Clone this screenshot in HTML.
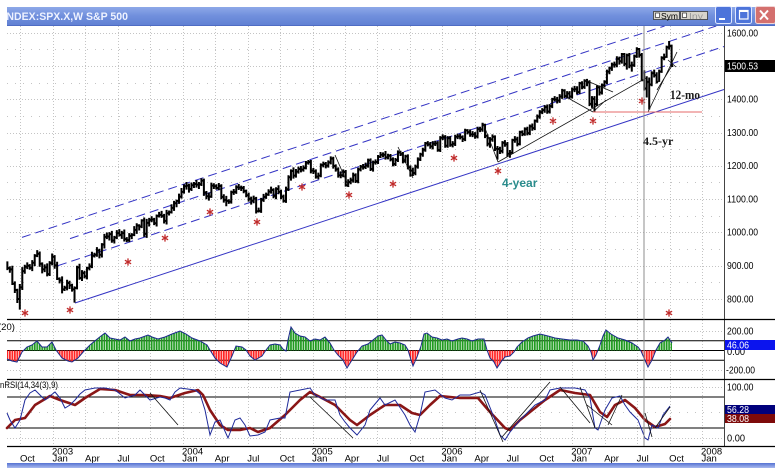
<!DOCTYPE html>
<html><head><meta charset="utf-8">
<style>
html,body{margin:0;padding:0;background:#fff;width:775px;height:476px;overflow:hidden}
svg{display:block}
text{font-family:"Liberation Sans",sans-serif}
</style></head><body>
<svg width="775" height="476" viewBox="0 0 775 476" xmlns="http://www.w3.org/2000/svg">
<defs>
 <linearGradient id="tb" x1="0" y1="0" x2="0" y2="1">
  <stop offset="0" stop-color="#8ea8e8"/><stop offset="0.45" stop-color="#7190dd"/><stop offset="1" stop-color="#5f7fd3"/>
 </linearGradient>
 <linearGradient id="sb" x1="0" y1="0" x2="0" y2="1">
  <stop offset="0" stop-color="#5572d2"/><stop offset="1" stop-color="#a9b9ee"/>
 </linearGradient>
 <clipPath id="tc"><rect x="7" y="0" width="768" height="30"/></clipPath>
 <clipPath id="hup"><rect x="7" y="319" width="717" height="31.5"/></clipPath>
 <clipPath id="hdn"><rect x="7" y="350.5" width="717" height="28.5"/></clipPath>
 <pattern id="gpat" patternUnits="userSpaceOnUse" x="6.5" y="0" width="2.4878" height="20">
  <rect x="0" y="0" width="1.8" height="20" fill="#1f9a1f"/>
 </pattern>
 <pattern id="rpat" patternUnits="userSpaceOnUse" x="6.5" y="0" width="2.4878" height="20">
  <rect x="0" y="0" width="1.8" height="20" fill="#ff2424"/>
 </pattern>
</defs>
<rect width="775" height="476" fill="#fff"/>

<!-- grid -->
<path d="M20.5 26V446M53.5 26V446M85.5 26V446M118.5 26V446M150.5 26V446M183.5 26V446M215.5 26V446M248.5 26V446M280.5 26V446M313.5 26V446M345.5 26V446M377.5 26V446M410.5 26V446M442.5 26V446M475.5 26V446M507.5 26V446M540.5 26V446M572.5 26V446M605.5 26V446M637.5 26V446M670.5 26V446M702.5 26V446" stroke="#c4c4c4" stroke-width="1" stroke-dasharray="1,2" fill="none"/>
<path d="M7 33.5H724M7 66.5H724M7 99.5H724M7 133.5H724M7 166.5H724M7 199.5H724M7 232.5H724M7 266.5H724M7 299.5H724M7 331.5H724M7 370.5H724M7 387.5H724M7 438.5H724" stroke="#c4c4c4" stroke-width="1" stroke-dasharray="1,2" fill="none"/>
<path d="M7 49.5H724M7 83.5H724M7 116.5H724M7 149.5H724M7 182.5H724M7 216.5H724M7 249.5H724M7 282.5H724M7 412.5H724" stroke="#c4c4c4" stroke-width="1" stroke-dasharray="1,7" fill="none"/>

<!-- panel lines -->
<line x1="724.5" y1="26" x2="724.5" y2="446" stroke="#444" stroke-width="1"/>
<path d="M7 319.5H775M7 379.5H775M7 446.5H775" stroke="#000" stroke-width="1.2" fill="none"/>
<path d="M7 340.7H724M7 350.5H724M7 360.2H724M7 397H724M7 428H724" stroke="#000" stroke-width="1" fill="none"/>

<!-- histogram -->
<g>
 <polygon clip-path="url(#hup)" fill="url(#gpat)" points="7,350.5 7,359 12,361 17,362 22,352 27,347 32,345 37,341 42,347 47,347 52,342 56,350 62,358 68,361 72,362 78,358 84,351 90,345 96,340 101,336 105,333 110,338 115,339 120,340 125,337 130,341 135,339 140,338 148,335 152,337 158,339 165,337 172,334 180,331 186,334 192,338 200,341 207,345 210,350 215,358 220,363 227,367 232,356 236,346 242,347 246,350 250,356 255,360 262,356 266,350 270,345 275,344 280,345 283,349 286,351 288,340 291,327 295,333 300,336 305,337 310,341 315,339 320,340 325,337 330,343 334,350 338,355 343,360 347,368 352,360 357,352 362,346 368,344 373,340 378,336 382,335 386,340 390,344 395,342 400,343 405,345 408,350 411,360 413,366 417,357 421,346 424,334 427,333 432,337 437,338 442,340 447,339 452,341 458,339 462,338 467,339 472,341 478,339 484,339 487,350 490,358 494,362 497,368 501,362 505,357 510,356 514,352 517,347 522,342 528,338 533,336 540,334 548,336 555,338 562,339 570,340 577,340 583,341 588,346 591,352 593,360 596,355 600,345 603,336 606,330 611,334 618,338 625,340 632,343 638,347 641,351 644,358 648,367 652,360 656,350 660,343 665,340 668,337 672,343 672,350.5"/>
 <polygon clip-path="url(#hdn)" fill="url(#rpat)" points="7,350.5 7,359 12,361 17,362 22,352 27,347 32,345 37,341 42,347 47,347 52,342 56,350 62,358 68,361 72,362 78,358 84,351 90,345 96,340 101,336 105,333 110,338 115,339 120,340 125,337 130,341 135,339 140,338 148,335 152,337 158,339 165,337 172,334 180,331 186,334 192,338 200,341 207,345 210,350 215,358 220,363 227,367 232,356 236,346 242,347 246,350 250,356 255,360 262,356 266,350 270,345 275,344 280,345 283,349 286,351 288,340 291,327 295,333 300,336 305,337 310,341 315,339 320,340 325,337 330,343 334,350 338,355 343,360 347,368 352,360 357,352 362,346 368,344 373,340 378,336 382,335 386,340 390,344 395,342 400,343 405,345 408,350 411,360 413,366 417,357 421,346 424,334 427,333 432,337 437,338 442,340 447,339 452,341 458,339 462,338 467,339 472,341 478,339 484,339 487,350 490,358 494,362 497,368 501,362 505,357 510,356 514,352 517,347 522,342 528,338 533,336 540,334 548,336 555,338 562,339 570,340 577,340 583,341 588,346 591,352 593,360 596,355 600,345 603,336 606,330 611,334 618,338 625,340 632,343 638,347 641,351 644,358 648,367 652,360 656,350 660,343 665,340 668,337 672,343 672,350.5"/>
 <polyline fill="none" stroke="#1c2a8c" stroke-width="1" points="7,359 12,361 17,362 22,352 27,347 32,345 37,341 42,347 47,347 52,342 56,350 62,358 68,361 72,362 78,358 84,351 90,345 96,340 101,336 105,333 110,338 115,339 120,340 125,337 130,341 135,339 140,338 148,335 152,337 158,339 165,337 172,334 180,331 186,334 192,338 200,341 207,345 210,350 215,358 220,363 227,367 232,356 236,346 242,347 246,350 250,356 255,360 262,356 266,350 270,345 275,344 280,345 283,349 286,351 288,340 291,327 295,333 300,336 305,337 310,341 315,339 320,340 325,337 330,343 334,350 338,355 343,360 347,368 352,360 357,352 362,346 368,344 373,340 378,336 382,335 386,340 390,344 395,342 400,343 405,345 408,350 411,360 413,366 417,357 421,346 424,334 427,333 432,337 437,338 442,340 447,339 452,341 458,339 462,338 467,339 472,341 478,339 484,339 487,350 490,358 494,362 497,368 501,362 505,357 510,356 514,352 517,347 522,342 528,338 533,336 540,334 548,336 555,338 562,339 570,340 577,340 583,341 588,346 591,352 593,360 596,355 600,345 603,336 606,330 611,334 618,338 625,340 632,343 638,347 641,351 644,358 648,367 652,360 656,350 660,343 665,340 668,337 672,343"/>
</g>

<!-- RSI -->
<polyline fill="none" stroke="#8a1616" stroke-width="2.6" stroke-linejoin="round" stroke-linecap="round" points="7,428 15,420 25,418 35,405 50,396 60,400 75,405 85,398 100,389 115,390 130,395 145,395 160,396 170,398 185,393 198,390 203,395 210,410 220,425 228,430 240,430 250,428 258,432 270,428 285,415 300,400 310,392 320,397 335,405 350,420 357,425 370,415 385,405 400,405 412,413 420,415 430,405 440,396 460,398 478,398 490,412 505,428 510,430 520,420 545,400 560,390 575,393 590,395 600,412 607,417 615,405 625,400 635,408 645,420 655,427 665,424 670,419"/>
<polyline fill="none" stroke="#1e2a9a" stroke-width="1" points="7,413 10,420 15,428 20,420 25,400 30,393 35,390 40,395 45,400 50,396 55,392 60,398 65,408 70,405 75,400 80,394 85,390 95,388 105,388 115,390 125,398 135,395 140,390 150,400 160,397 165,398 170,400 175,392 180,388 195,390 200,394 205,410 210,435 215,422 220,420 228,438 235,420 240,418 245,425 250,436 258,435 265,432 270,420 280,418 285,418 290,392 300,390 310,388 315,395 325,400 335,400 340,415 345,422 350,428 357,435 365,425 370,410 380,398 385,405 395,400 405,415 410,425 415,432 420,415 425,392 435,390 445,398 452,400 460,395 470,395 480,392 485,395 495,420 500,435 505,440 510,432 520,420 535,405 545,400 550,390 560,388 575,388 585,390 590,398 595,428 598,430 605,410 612,398 620,396 625,405 630,412 638,420 645,438 648,440 652,425 658,428 663,415 670,406"/>
<path fill="none" stroke="#111" stroke-width="0.8" d="M310 397L353 438M480 390L503 442M502 437L550 382M560 387L590 423M580 387L595 428M587 405L612 425M608 425L622 395M645 413L652 437M655 428L670 407M150 393L178 425"/>

<!-- channel lines -->
<g stroke="#3434c4" stroke-width="1" fill="none">
 <line x1="75" y1="303" x2="724" y2="89.5"/>
 <line x1="22" y1="237.4" x2="664.6" y2="26" stroke-dasharray="9,5"/>
 <line x1="70" y1="238.6" x2="716.2" y2="26" stroke-dasharray="9,5"/>
 <line x1="58" y1="265.6" x2="724" y2="46.5" stroke-dasharray="9,5"/>
</g>

<!-- price bars (data coords: x = week index, y = price) -->
<g transform="translate(7.36 565) scale(2.4878 -0.3325)">
<path fill="none" stroke="#000" stroke-width="2" vector-effect="non-scaling-stroke" d="M0 887V913M0 893h.6M1 879V898M1 889h.6M2 842V900M2 846h.6M3 818V853M3 827h.6M4 788V831M4 800h.6M5 768V845M5 835h.6M6 827V896M6 884h.6M7 876V903M7 897h.6M8 890V910M8 900h.6M9 888V905M9 894h.6M10 884V917M10 909h.6M11 899V935M11 930h.6M12 926V947M12 936h.6M13 897V943M13 906h.6M14 877V910M14 889h.6M15 881V904M15 895h.6M16 868V907M16 875h.6M17 869V914M17 908h.6M18 901V937M18 927h.6M19 891V932M19 901h.6M20 857V912M20 861h.6M21 847V865M21 856h.6M22 817V868M22 829h.6M23 824V840M23 834h.6M24 826V858M24 848h.6M25 830V855M25 841h.6M26 822V846M26 829h.6M27 789V838M27 833h.6M28 829V900M28 895h.6M29 858V906M29 863h.6M30 854V887M30 878h.6M31 862V885M31 868h.6M32 859V897M32 893h.6M33 886V907M33 898h.6M34 893V942M34 930h.6M35 925V939M35 933h.6M36 927V956M36 946h.6M37 922V951M37 933h.6M38 925V968M38 964h.6M39 952V996M39 987h.6M40 980V1000M40 988h.6M41 976V1001M41 995h.6M42 969V1005M42 976h.6M43 967V990M43 985h.6M44 980V1007M44 998h.6M45 988V1010M45 993h.6M46 981V1005M46 998h.6M47 973V1009M47 980h.6M48 971V986M48 977h.6M49 971V998M49 990h.6M50 980V998M50 993h.6M51 989V1019M51 1008h.6M52 996V1028M52 1021h.6M53 1006V1025M53 1018h.6M54 1013V1040M54 1036h.6M55 987V1045M55 996h.6M56 984V1041M56 1029h.6M57 1018V1044M57 1038h.6M58 1031V1049M58 1039h.6M59 1022V1044M59 1028h.6M60 1018V1054M60 1050h.6M61 1045V1062M61 1053h.6M62 1044V1065M62 1050h.6M63 1027V1056M63 1035h.6M64 1024V1068M64 1058h.6M65 1051V1066M65 1061h.6M66 1057V1085M66 1074h.6M67 1065V1095M67 1088h.6M68 1076V1099M68 1095h.6M69 1086V1117M69 1108h.6M70 1102V1134M70 1122h.6M71 1117V1145M71 1139h.6M72 1129V1152M72 1141h.6M73 1120V1147M73 1131h.6M74 1125V1150M74 1142h.6M75 1134V1152M75 1146h.6M76 1135V1158M76 1144h.6M77 1131V1152M77 1145h.6M78 1140V1163M78 1156h.6M79 1110V1162M79 1120h.6M80 1100V1125M80 1109h.6M81 1096V1120M81 1108h.6M82 1104V1150M82 1141h.6M83 1131V1148M83 1139h.6M84 1129V1145M84 1134h.6M85 1127V1149M85 1140h.6M86 1100V1145M86 1107h.6M87 1090V1115M87 1098h.6M88 1079V1110M88 1095h.6M89 1086V1100M89 1093h.6M90 1087V1126M90 1121h.6M91 1113V1131M91 1122h.6M92 1116V1142M92 1136h.6M93 1128V1146M93 1135h.6M94 1125V1141M94 1134h.6M95 1118V1140M95 1125h.6M96 1106V1129M96 1112h.6M97 1093V1120M97 1101h.6M98 1084V1108M98 1096h.6M99 1088V1111M99 1102h.6M100 1057V1107M100 1064h.6M101 1060V1075M101 1065h.6M102 1059V1104M102 1098h.6M103 1092V1116M103 1107h.6M104 1101V1120M104 1114h.6M105 1110V1130M105 1123h.6M106 1117V1138M106 1128h.6M107 1103V1133M107 1110h.6M108 1100V1136M108 1131h.6M109 1115V1142M109 1122h.6M110 1100V1129M110 1108h.6M111 1090V1114M111 1095h.6M112 1089V1138M112 1130h.6M113 1125V1172M113 1166h.6M114 1156V1190M114 1185h.6M115 1162V1196M115 1171h.6M116 1165V1191M116 1183h.6M117 1177V1198M117 1191h.6M118 1181V1200M118 1189h.6M119 1183V1202M119 1194h.6M120 1190V1215M120 1210h.6M121 1204V1218M121 1212h.6M122 1178V1218M122 1186h.6M123 1176V1194M123 1184h.6M124 1162V1190M124 1168h.6M125 1160V1180M125 1171h.6M126 1166V1208M126 1203h.6M127 1196V1213M127 1206h.6M128 1193V1212M128 1201h.6M129 1195V1217M129 1211h.6M130 1205V1229M130 1222h.6M131 1192V1228M131 1200h.6M132 1183V1205M132 1190h.6M133 1165V1196M133 1172h.6M134 1163V1184M134 1172h.6M135 1166V1190M135 1182h.6M136 1138V1188M136 1142h.6M137 1137V1160M137 1152h.6M138 1145V1165M138 1157h.6M139 1150V1180M139 1172h.6M140 1149V1178M140 1155h.6M141 1148V1195M141 1190h.6M142 1184V1203M142 1198h.6M143 1189V1206M143 1197h.6M144 1191V1210M144 1201h.6M145 1195V1222M145 1217h.6M146 1185V1223M146 1191h.6M147 1183V1216M147 1211h.6M148 1204V1220M148 1212h.6M149 1206V1233M149 1228h.6M150 1224V1242M150 1234h.6M151 1226V1241M151 1234h.6M152 1219V1245M152 1226h.6M153 1220V1237M153 1231h.6M154 1214V1236M154 1220h.6M155 1199V1226M155 1206h.6M156 1200V1224M156 1218h.6M157 1212V1247M157 1241h.6M158 1230V1246M158 1237h.6M159 1208V1242M159 1215h.6M160 1209V1234M160 1229h.6M161 1190V1235M161 1196h.6M162 1168V1202M162 1186h.6M163 1170V1195M163 1179h.6M164 1172V1204M164 1198h.6M165 1192V1226M165 1220h.6M166 1215V1240M166 1235h.6M167 1228V1255M167 1249h.6M168 1243V1272M168 1268h.6M169 1259V1275M169 1265h.6M170 1252V1272M170 1259h.6M171 1250V1275M171 1267h.6M172 1260V1276M172 1268h.6M173 1243V1275M173 1248h.6M174 1242V1290M174 1285h.6M175 1278V1295M175 1287h.6M176 1255V1293M176 1261h.6M177 1255V1290M177 1284h.6M178 1258V1290M178 1264h.6M179 1256V1275M179 1267h.6M180 1260V1294M180 1288h.6M181 1281V1297M181 1289h.6M182 1280V1297M182 1287h.6M183 1272V1292M183 1281h.6M184 1275V1312M184 1307h.6M185 1295V1311M185 1302h.6M186 1288V1310M186 1295h.6M187 1287V1305M187 1295h.6M188 1282V1302M188 1289h.6M189 1283V1318M189 1311h.6M190 1302V1318M190 1310h.6M191 1303V1330M191 1325h.6M192 1284V1327M192 1291h.6M193 1259V1295M193 1267h.6M194 1255V1287M194 1280h.6M195 1273V1295M195 1288h.6M196 1245V1292M196 1252h.6M197 1219V1260M197 1251h.6M198 1236V1258M198 1245h.6M199 1238V1275M199 1270h.6M200 1258V1278M200 1265h.6M201 1228V1272M201 1237h.6M202 1225V1248M202 1240h.6M203 1236V1282M203 1278h.6M204 1270V1290M204 1280h.6M205 1259V1288M205 1266h.6M206 1262V1306M206 1302h.6M207 1290V1307M207 1296h.6M208 1291V1316M208 1311h.6M209 1292V1318M209 1299h.6M210 1293V1325M210 1319h.6M211 1306V1328M211 1314h.6M212 1308V1340M212 1336h.6M213 1330V1355M213 1349h.6M214 1342V1368M214 1362h.6M215 1356V1374M215 1368h.6M216 1360V1383M216 1377h.6M217 1357V1385M217 1364h.6M218 1358V1386M218 1380h.6M219 1374V1405M219 1401h.6M220 1394V1410M220 1400h.6M221 1388V1408M221 1397h.6M222 1390V1416M222 1409h.6M223 1402V1432M223 1427h.6M224 1404V1431M224 1410h.6M225 1403V1425M225 1418h.6M226 1402V1425M226 1409h.6M227 1403V1436M227 1430h.6M228 1422V1441M228 1431h.6M229 1415V1440M229 1422h.6M230 1416V1453M230 1449h.6M231 1431V1455M231 1438h.6M232 1432V1461M232 1456h.6M233 1440V1462M233 1451h.6M234 1380V1458M234 1387h.6M235 1375V1410M235 1402h.6M236 1364V1410M236 1386h.6M237 1380V1442M237 1437h.6M238 1412V1442M238 1421h.6M239 1415V1448M239 1443h.6M240 1436V1458M240 1453h.6M241 1446V1490M241 1484h.6M242 1476V1499M242 1494h.6M243 1486V1511M243 1505h.6M244 1496V1514M244 1505h.6M245 1497V1530M245 1522h.6M246 1505V1529M246 1515h.6M247 1508V1540M247 1536h.6M248 1500V1540M248 1507h.6M249 1490V1538M249 1533h.6M250 1494V1540M250 1502h.6M251 1484V1514M251 1503h.6M252 1498V1535M252 1530h.6M253 1525V1557M253 1552h.6M254 1526V1555M254 1534h.6M255 1455V1540M255 1458h.6M256 1427V1488M256 1433h.6M257 1406V1470M257 1453h.6M258 1370V1466M258 1445h.6M259 1440V1485M259 1479h.6M260 1466V1490M260 1473h.6M261 1448V1482M261 1453h.6M262 1453V1490M262 1484h.6M263 1480V1530M263 1525h.6M264 1518V1538M264 1527h.6M265 1525V1562M265 1557h.6M266 1550V1576M266 1561h.6M267 1499V1565M267 1500.6h.6"/>
</g>

<!-- user trend lines -->
<path fill="none" stroke="#111" stroke-width="0.8" d="M335 155L349 187M398 147L413 178M483 123L498 162M498 162L646 78M568 98L593 112M585 80L613 92M593 112L606 100M648 112L677 52M657 90L673 64M668 60L676 67"/>

<!-- stars -->
<path fill="none" stroke="#c02a2a" stroke-width="1.3" d="M25 309.4v7.2M21.9 311.2l6.2 3.6M21.9 314.8l6.2-3.6M70 306.4v7.2M66.9 308.2l6.2 3.6M66.9 311.8l6.2-3.6M128 258.4v7.2M124.9 260.2l6.2 3.6M124.9 263.8l6.2-3.6M165 234.4v7.2M161.9 236.2l6.2 3.6M161.9 239.8l6.2-3.6M210 208.4v7.2M206.9 210.2l6.2 3.6M206.9 213.8l6.2-3.6M257 218.4v7.2M253.9 220.2l6.2 3.6M253.9 223.8l6.2-3.6M302 183.4v7.2M298.9 185.2l6.2 3.6M298.9 188.8l6.2-3.6M349 191.4v7.2M345.9 193.2l6.2 3.6M345.9 196.8l6.2-3.6M393 180.4v7.2M389.9 182.2l6.2 3.6M389.9 185.8l6.2-3.6M454 154.4v7.2M450.9 156.2l6.2 3.6M450.9 159.8l6.2-3.6M498 167.4v7.2M494.9 169.2l6.2 3.6M494.9 172.8l6.2-3.6M553 117.4v7.2M549.9 119.2l6.2 3.6M549.9 122.8l6.2-3.6M593 117.4v7.2M589.9 119.2l6.2 3.6M589.9 122.8l6.2-3.6M642 97.4v7.2M638.9 99.2l6.2 3.6M638.9 102.8l6.2-3.6M669 309.4v7.2M665.9 311.2l6.2 3.6M665.9 314.8l6.2-3.6"/>

<!-- vertical marker line -->
<line x1="644" y1="26" x2="644" y2="446" stroke="#8c8c8c" stroke-width="1"/>
<!-- red horizontal -->
<line x1="593" y1="112" x2="702" y2="112" stroke="#e46a6a" stroke-width="1"/>

<!-- annotations -->
<text x="502" y="187" font-size="12" font-weight="bold" fill="#2a8c8c">4-year</text>
<text x="643" y="145" font-size="12" font-weight="bold" fill="#1a1a1a" style="font-family:'Liberation Serif',serif">4.5-yr</text>
<text x="670" y="99" font-size="12.5" font-weight="bold" fill="#1a1a1a" style="font-family:'Liberation Serif',serif" textLength="30" lengthAdjust="spacingAndGlyphs">12-mo</text>

<!-- panel indicator labels -->
<text x="-2" y="330" font-size="9.5" fill="#000">(20)</text>
<text x="0" y="388" font-size="9.5" fill="#000" textLength="58" lengthAdjust="spacingAndGlyphs">nRSI(14,34(3),9)</text>

<!-- right axis labels -->
<g font-size="10" fill="#000">
 <text x="727" y="36.5" textLength="31" lengthAdjust="spacingAndGlyphs">1600.00</text>
 <text x="727" y="102.5" textLength="31" lengthAdjust="spacingAndGlyphs">1400.00</text>
 <text x="727" y="136" textLength="31" lengthAdjust="spacingAndGlyphs">1300.00</text>
 <text x="727" y="169" textLength="31" lengthAdjust="spacingAndGlyphs">1200.00</text>
 <text x="727" y="202.5" textLength="31" lengthAdjust="spacingAndGlyphs">1100.00</text>
 <text x="727" y="235.5" textLength="31" lengthAdjust="spacingAndGlyphs">1000.00</text>
 <text x="727" y="269" textLength="26.5" lengthAdjust="spacingAndGlyphs">900.00</text>
 <text x="727" y="302.5" textLength="26.5" lengthAdjust="spacingAndGlyphs">800.00</text>
 <text x="727" y="334.5" textLength="26.5" lengthAdjust="spacingAndGlyphs">200.00</text>
 <text x="727" y="355" textLength="18" lengthAdjust="spacingAndGlyphs">0.00</text>
 <text x="726" y="373.5" textLength="29" lengthAdjust="spacingAndGlyphs">-200.00</text>
 <text x="727" y="390.5" textLength="26.5" lengthAdjust="spacingAndGlyphs">100.00</text>
 <text x="727" y="441.5" textLength="18" lengthAdjust="spacingAndGlyphs">0.00</text>
</g>
<rect x="725" y="60" width="50" height="12" fill="#000"/>
<text x="727" y="69.5" font-size="10" fill="#fff" textLength="31" lengthAdjust="spacingAndGlyphs">1500.53</text>
<rect x="725" y="340" width="50" height="10" fill="#0b14ee"/>
<text x="727" y="348.5" font-size="10" fill="#fff" textLength="22" lengthAdjust="spacingAndGlyphs">46.06</text>
<rect x="725" y="405" width="50" height="9" fill="#00007c"/>
<text x="727" y="413" font-size="10" fill="#fff" textLength="22" lengthAdjust="spacingAndGlyphs">56.28</text>
<rect x="725" y="414" width="50" height="9" fill="#7e0a0a"/>
<text x="727" y="422" font-size="10" fill="#fff" textLength="22" lengthAdjust="spacingAndGlyphs">38.08</text>

<!-- time axis labels -->
<g font-size="9.5" fill="#000">
 <text x="20" y="461.5">Oct</text>
 <text x="52" y="454.5">2003</text><text x="52.5" y="461.5">Jan</text>
 <text x="85" y="461.5">Apr</text>
 <text x="117.4" y="461.5">Jul</text>
 <text x="149.9" y="461.5">Oct</text>
 <text x="182" y="454.5">2004</text><text x="182.3" y="461.5">Jan</text>
 <text x="214.8" y="461.5">Apr</text>
 <text x="247.2" y="461.5">Jul</text>
 <text x="279.7" y="461.5">Oct</text>
 <text x="311.6" y="454.5">2005</text><text x="312.1" y="461.5">Jan</text>
 <text x="344.6" y="461.5">Apr</text>
 <text x="377" y="461.5">Jul</text>
 <text x="409.5" y="461.5">Oct</text>
 <text x="441.4" y="454.5">2006</text><text x="441.9" y="461.5">Jan</text>
 <text x="474.4" y="461.5">Apr</text>
 <text x="506.8" y="461.5">Jul</text>
 <text x="539.3" y="461.5">Oct</text>
 <text x="571.2" y="454.5">2007</text><text x="571.7" y="461.5">Jan</text>
 <text x="604.2" y="461.5">Apr</text>
 <text x="636.6" y="461.5">Jul</text>
 <text x="669.1" y="461.5">Oct</text>
 <text x="701" y="454.5">2008</text><text x="701.5" y="461.5">Jan</text>
</g>

<!-- bottom scrollbar -->
<rect x="7" y="463" width="768" height="5" fill="url(#sb)"/>

<!-- title bar -->
<rect x="7" y="7" width="768" height="19" fill="url(#tb)"/>
<line x1="7" y1="25.5" x2="775" y2="25.5" stroke="#4f6cc4" stroke-width="1"/>
<g clip-path="url(#tc)">
 <text x="3.5" y="20" font-size="11" font-weight="bold" fill="#eef2ff" textLength="124.5" lengthAdjust="spacingAndGlyphs">INDEX:SPX.X,W S&amp;P 500</text>
</g>
<rect x="653.5" y="11.5" width="26" height="8" fill="#d7d4cc" stroke="#3a3a3a" stroke-width="0.8"/>
<rect x="655.5" y="13" width="4" height="4.5" fill="#fff" stroke="#333" stroke-width="0.7"/>
<text x="661" y="18.8" font-size="8.5" fill="#000" textLength="17" lengthAdjust="spacingAndGlyphs">Sym</text>
<rect x="680.5" y="11.5" width="27" height="8" fill="#d7d4cc" stroke="#3a3a3a" stroke-width="0.8"/>
<rect x="682.5" y="13" width="4" height="4.5" fill="#fff" stroke="#333" stroke-width="0.7"/>
<text x="689" y="18.8" font-size="8.5" fill="#9a9a9a" textLength="14" lengthAdjust="spacingAndGlyphs">Inv</text>
<rect x="715.5" y="6.5" width="16" height="17" rx="2" fill="#4d74da" stroke="#dfe7ff" stroke-width="1"/>
<rect x="719" y="18" width="6" height="2" fill="#fff"/>
<rect x="735.5" y="6.5" width="16" height="17" rx="2" fill="#4d74da" stroke="#dfe7ff" stroke-width="1"/>
<rect x="739.5" y="10.5" width="8.5" height="8.5" fill="none" stroke="#fff" stroke-width="1.2"/>
<line x1="739.5" y1="11" x2="748" y2="11" stroke="#fff" stroke-width="2"/>
<rect x="755.5" y="6.5" width="20" height="17" rx="2" fill="#d4706e" stroke="#f2d4d4" stroke-width="1"/>
<line x1="760" y1="10.5" x2="768" y2="19.5" stroke="#fff" stroke-width="2"/>
<line x1="768" y1="10.5" x2="760" y2="19.5" stroke="#fff" stroke-width="2"/>
</svg>
</body></html>
